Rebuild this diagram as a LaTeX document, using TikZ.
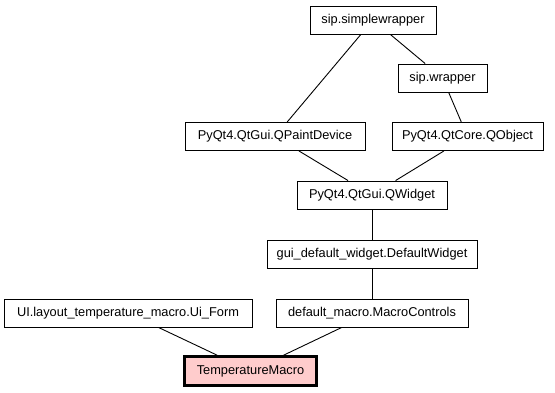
\documentclass[tikz,border=0pt]{standalone}
\usepackage{fontspec}
\setmainfont{Liberation Sans}
\definecolor{rootfill}{RGB}{255,204,204}
\begin{document}
\begin{tikzpicture}[x=1pt,y=-1pt,
  cls/.style={draw=black, line width=0.9pt, fill=white, inner sep=0pt,
    minimum height=28pt, font=\fontsize{12.8}{15}\selectfont},
  root/.style={cls, fill=rootfill, line width=2.6pt, minimum height=29pt},
  link/.style={draw=black, line width=0.9pt}]
\useasboundingbox (0,0) rectangle (555,392);
% class boxes, positioned by centre
\node[cls, minimum width=126pt] (sw)  at (373,20)    {sip.simplewrapper};
\node[cls, minimum width=89pt]  (wr)  at (442.5,78)  {sip.wrapper};
\node[cls, minimum width=180pt] (pd)  at (275,136.5) {PyQt4.QtGui.QPaintDevice};
\node[cls, minimum width=151pt] (qo)  at (467.5,136.5) {PyQt4.QtCore.QObject};
\node[cls, minimum width=150pt] (qw)  at (372,195)   {PyQt4.QtGui.QWidget};
\node[cls, minimum width=210pt] (dw)  at (372,254.5) {gui\_default\_widget.DefaultWidget};
\node[cls, minimum width=248pt] (ui)  at (128,313)   {UI.layout\_temperature\_macro.Ui\_Form};
\node[cls, minimum width=192pt] (mc)  at (372,313)   {default\_macro.MacroControls};
\node[root, minimum width=132pt] (tm) at (250.5,371) {TemperatureMacro};
% inheritance links
\draw[link] (sw) -- (pd);
\draw[link] (sw) -- (wr);
\draw[link] (wr) -- (qo);
\draw[link] (pd) -- (qw);
\draw[link] (qo) -- (qw);
\draw[link] (qw) -- (dw);
\draw[link] (dw) -- (mc);
\draw[link] (ui) -- (tm);
\draw[link] (mc) -- (tm);
\end{tikzpicture}
\end{document}
